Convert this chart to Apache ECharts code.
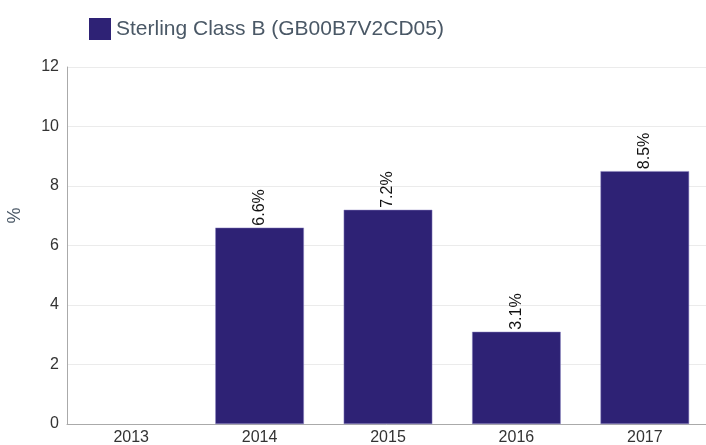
<!DOCTYPE html>
<html>
<head>
<meta charset="utf-8">
<script src="https://cdn.jsdelivr.net/npm/echarts@6/dist/echarts.min.js"></script>
<style>
html, body { margin: 0; padding: 0; background: #fff; }
#chart { width: 706px; height: 445px; }
</style>
</head>
<body>
<div id="chart"></div>
<script>
var years = ['2013', '2014', '2015', '2016', '2017'];
var returns = [null, 6.6, 7.2, 3.1, 8.5];
var seriesName = 'Sterling Class B (GB00B7V2CD05)';

var myChart = echarts.init(document.getElementById('chart'));
var option = {
    animation: false,
    textStyle: { fontFamily: 'Arial, "Liberation Sans", sans-serif' },
    legend: {
        left: 84,
        top: 13,
        itemWidth: 22,
        itemHeight: 22,
        itemGap: 10,
        itemStyle: { borderWidth: 0 },
        icon: 'rect',
        textStyle: { fontSize: 21, color: '#4a5866' },
        data: [seriesName]
    },
    grid: {
        left: 67,
        top: 67,
        width: 642,
        height: 357,
        outerBoundsMode: 'none'
    },
    xAxis: {
        type: 'category',
        data: years,
        axisLine: { lineStyle: { color: '#aaaaaa' } },
        axisTick: { show: false },
        axisLabel: { fontSize: 16, color: '#333', margin: 6 }
    },
    yAxis: {
        type: 'value',
        min: 0,
        max: 12,
        interval: 2,
        name: '%',
        nameLocation: 'middle',
        nameGap: 43,
        nameTextStyle: { fontSize: 18, color: '#4a5866', padding: [0, 0, 0, 60] },
        axisLine: { show: true, lineStyle: { color: '#aaaaaa' } },
        axisTick: { show: false },
        axisLabel: { fontSize: 16, color: '#333', margin: 8 },
        splitLine: { lineStyle: { color: '#ebebeb' } }
    },
    series: [
        {
            name: seriesName,
            type: 'bar',
            data: returns,
            barWidth: '69%',
            itemStyle: { color: '#2e2275', borderColor: '#8a82c0', borderWidth: 0.5 },
            label: {
                show: true,
                position: 'top',
                rotate: 90,
                align: 'left',
                verticalAlign: 'middle',
                distance: 2,
                fontSize: 16,
                color: '#111',
                formatter: function (p) { return p.value + '%'; }
            }
        }
    ]
};
myChart.setOption(option);
</script>
</body>
</html>
